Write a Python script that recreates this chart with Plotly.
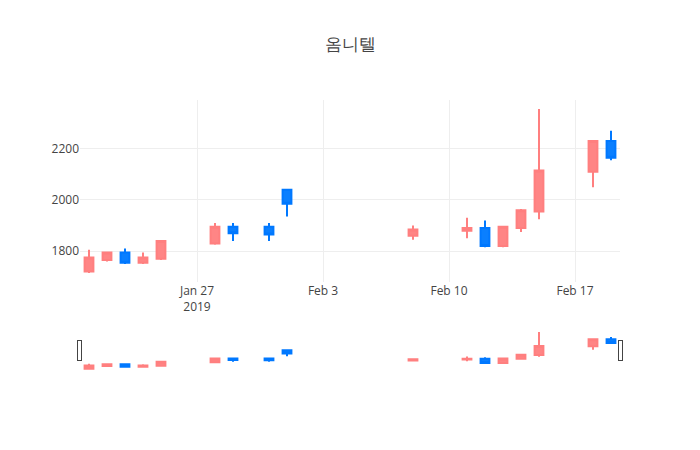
import plotly.graph_objects as go

dates = ["2019-01-21", "2019-01-22", "2019-01-23", "2019-01-24", "2019-01-25",
         "2019-01-28", "2019-01-29", "2019-01-31", "2019-02-01", "2019-02-08",
         "2019-02-11", "2019-02-12", "2019-02-13", "2019-02-14", "2019-02-15",
         "2019-02-18", "2019-02-19"]
open_ = [1720, 1765, 1795, 1755, 1770, 1830, 1895, 1895, 2040, 1860,
         1880, 1890, 1820, 1890, 1955, 2110, 2230]
high = [1805, 1795, 1810, 1795, 1840, 1910, 1910, 1910, 2040, 1900,
        1930, 1920, 1895, 1965, 2355, 2230, 2270]
low = [1715, 1760, 1750, 1750, 1765, 1825, 1840, 1840, 1935, 1845,
       1850, 1815, 1815, 1875, 1925, 2050, 2155]
close = [1775, 1795, 1755, 1775, 1840, 1895, 1870, 1865, 1985, 1885,
         1890, 1820, 1895, 1960, 2115, 2230, 2165]

fig = go.Figure(go.Candlestick(
    x=dates, open=open_, high=high, low=low, close=close,
    increasing=dict(line=dict(color="#FF7F7F"), fillcolor="#FF8585"),
    decreasing=dict(line=dict(color="#0078FF"), fillcolor="#0A7FFF"),
))
fig.update_layout(
    template="none",
    width=700, height=450,
    margin=dict(l=80, r=80, t=100, b=80),
    title=dict(text="옴니텔", x=0.5, font=dict(size=17)),
    showlegend=False,
    xaxis=dict(rangeslider=dict(visible=True), showgrid=True, gridcolor="#eee"),
    yaxis=dict(showgrid=True, gridcolor="#eee", zeroline=False),
)
fig.write_html("out.html")
